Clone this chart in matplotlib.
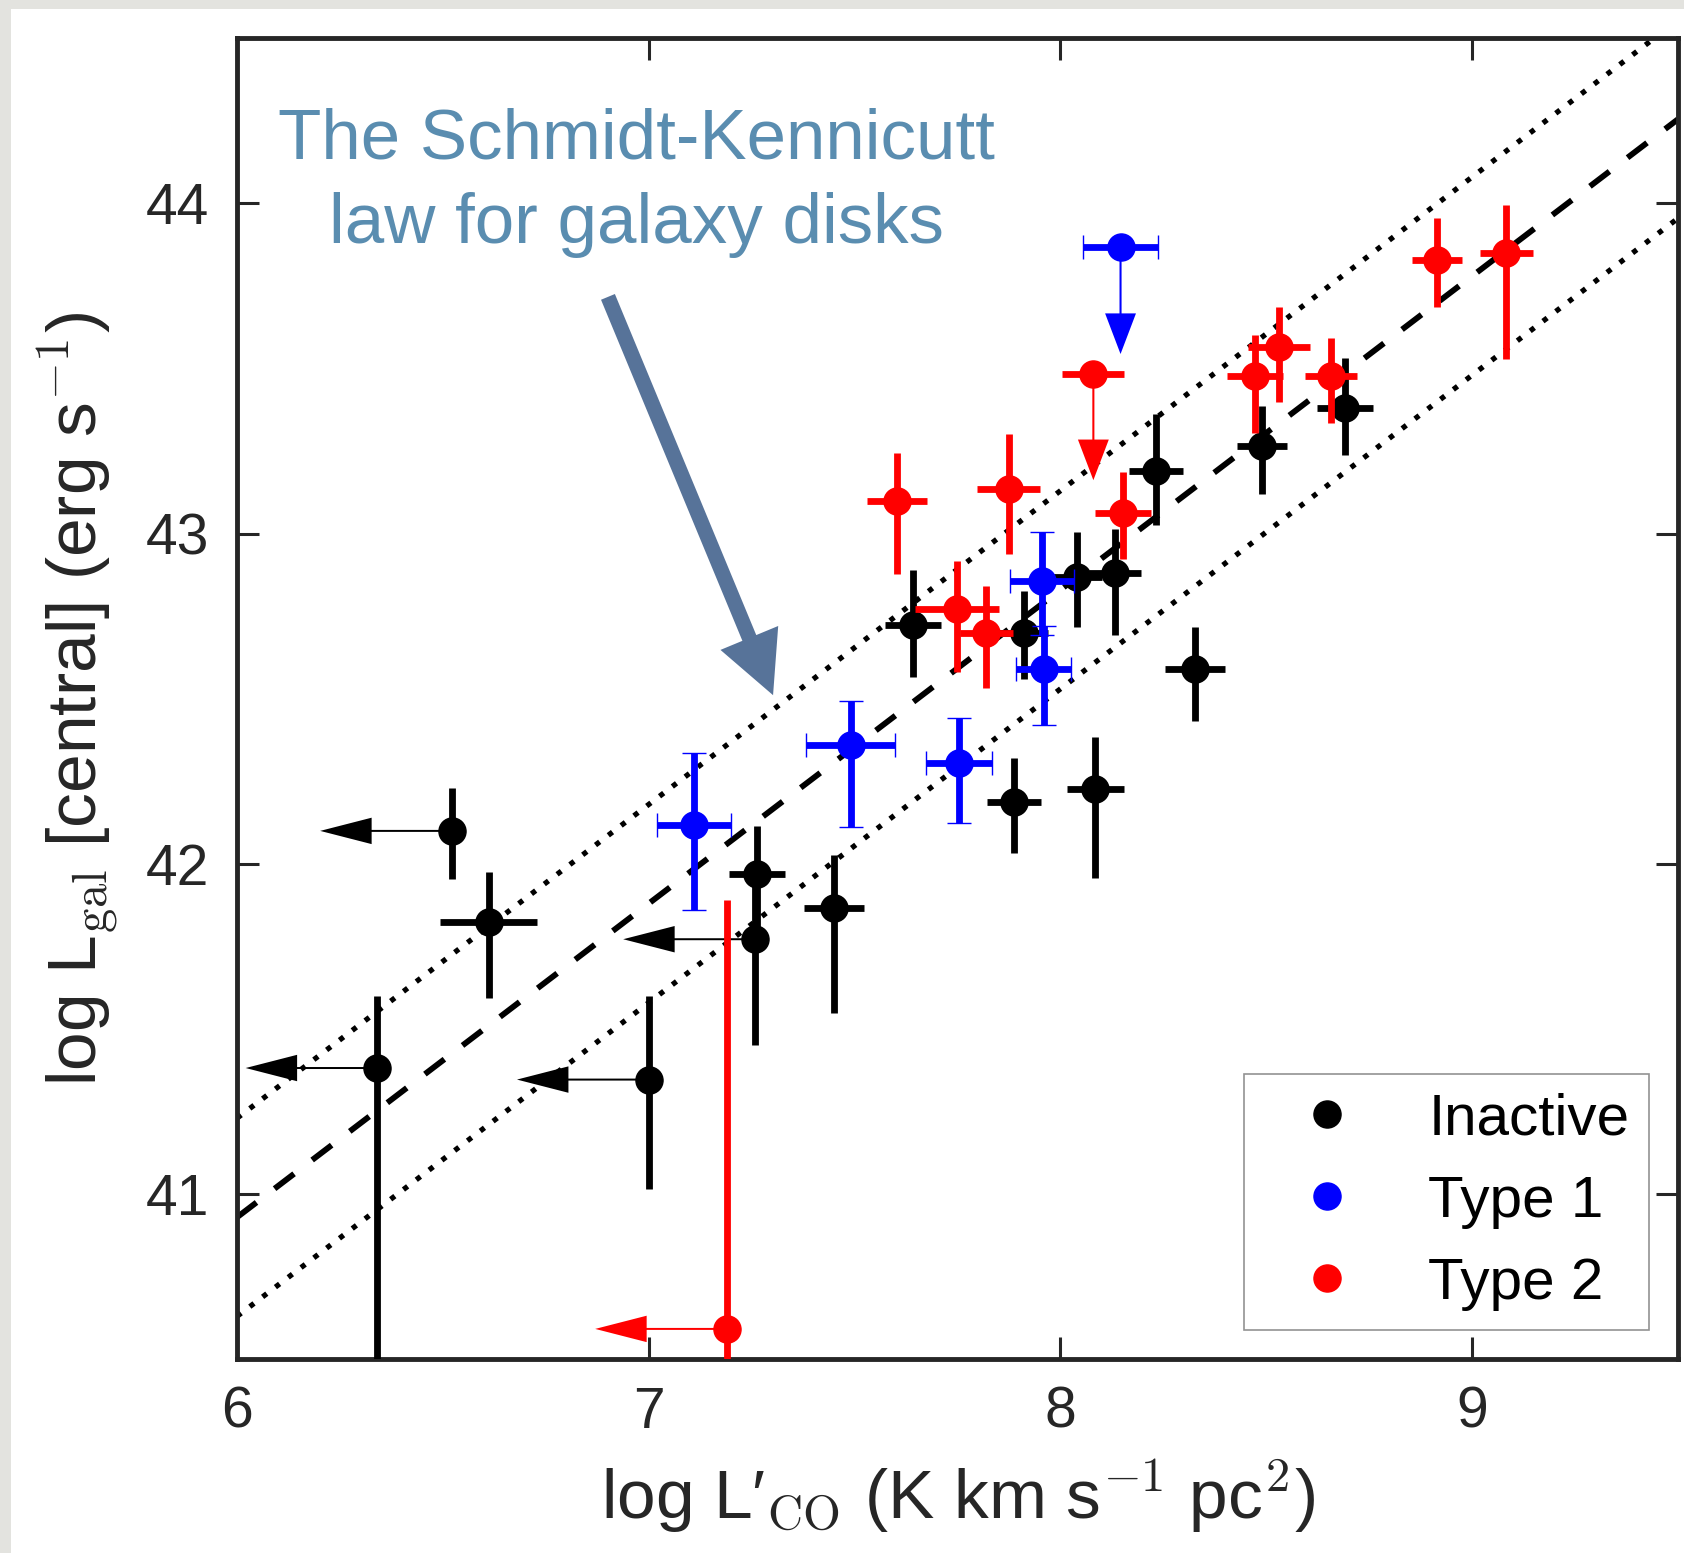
import numpy as np
import matplotlib
matplotlib.use('Agg')
import matplotlib.pyplot as plt
from matplotlib.lines import Line2D
from matplotlib.patches import Rectangle, FancyArrow

# ---------------- data ----------------
# Inactive galaxies
inactive_x = [6.522, 6.611, 6.341, 7.000, 7.263, 7.258, 7.450, 7.642, 7.911, 7.887,
              8.040, 8.133, 8.085, 8.232, 8.327, 8.489, 8.690]
inactive_y = [42.100, 41.824, 41.382, 41.347, 41.969, 41.772, 41.868, 42.723, 42.698, 42.189,
              42.869, 42.882, 42.228, 43.190, 42.589, 43.264, 43.382]
inactive_xerr = [0, 0.117, 0, 0, 0.067, 0, 0.074, 0.067, 0.060, 0.066,
                 0.060, 0.063, 0.070, 0.066, 0.072, 0.061, 0.068]
inactive_ylo = [0.145, 0.230, 1.000, 0.330, 0.180, 0.320, 0.320, 0.158, 0.137, 0.155,
                0.152, 0.190, 0.270, 0.164, 0.155, 0.145, 0.145]
inactive_yhi = [0.129, 0.153, 0.218, 0.253, 0.145, 0.200, 0.160, 0.166, 0.128, 0.133,
                0.137, 0.131, 0.156, 0.172, 0.128, 0.123, 0.149]
inactive_xlim = [1, 0, 1, 1, 0, 1, 0, 0, 0, 0, 0, 0, 0, 0, 0, 0, 0]
inactive_ylim = [0] * 17

# Type 1 AGN
type1_x = [8.146, 7.955, 7.959, 7.491, 7.753, 7.110]
type1_y = [43.867, 42.857, 42.591, 42.361, 42.305, 42.118]
type1_xerr = [0.090, 0.077, 0.067, 0.108, 0.080, 0.090]
type1_ylo = [0, 0.163, 0.171, 0.248, 0.182, 0.257]
type1_yhi = [0, 0.147, 0.128, 0.133, 0.136, 0.217]
type1_xlim = [0, 0, 0, 0, 0, 0]
type1_ylim = [1, 0, 0, 0, 0, 0]

# Type 2 AGN
type2_x = [8.080, 7.603, 7.874, 7.749, 7.820, 8.151, 8.472, 8.531, 8.658, 8.914, 9.083, 7.190]
type2_y = [43.485, 43.099, 43.135, 42.771, 42.700, 43.064, 43.476, 43.564, 43.476, 43.829, 43.850, 40.592]
type2_xerr = [0.075, 0.073, 0.076, 0.102, 0.065, 0.068, 0.068, 0.076, 0.063, 0.061, 0.065, 0]
type2_ylo = [0, 0.222, 0.197, 0.189, 0.167, 0.142, 0.172, 0.165, 0.142, 0.144, 0.320, 1.300]
type2_yhi = [0, 0.145, 0.167, 0.147, 0.142, 0.123, 0.125, 0.123, 0.118, 0.127, 0.144, 1.300]
type2_xlim = [0, 0, 0, 0, 0, 0, 0, 0, 0, 0, 0, 1]
type2_ylim = [1, 0, 0, 0, 0, 0, 0, 0, 0, 0, 0, 0]

# Schmidt-Kennicutt relation and scatter
sk_slope = 0.95
sk_intercept = 35.23
sk_scatter = 0.3

x_ticks = [6, 7, 8, 9]
y_ticks = [41, 42, 43, 44]
legend_labels = ['Inactive', 'Type 1', 'Type 2']

# ---------------- style ----------------
plt.rcParams['font.family'] = ['Liberation Sans', 'DejaVu Sans']
plt.rcParams['mathtext.fontset'] = 'cm'

W, H, DPI = 1684, 1553, 100
fig = plt.figure(figsize=(W / DPI, H / DPI), dpi=DPI, facecolor='#e3e3df')
fig.patches.append(Rectangle((11 / W, 0), 1, 1 - 9 / H, transform=fig.transFigure,
                             facecolor='white', edgecolor='none', zorder=-10))
ax = fig.add_axes([237 / W, 1 - 1359.3 / H, (1678 - 237) / W, (1359.3 - 38.3) / H])

ax.set_xlim(6, 9.5)
ax.set_ylim(40.5, 44.5)

# relation lines
xl = np.array([6.0, 9.5])
ax.plot(xl, sk_slope * xl + sk_intercept, color='black', lw=4.2,
        dashes=(4.2, 3.9), zorder=1)
for off in (sk_scatter, -sk_scatter):
    ax.plot(xl, sk_slope * xl + sk_intercept + off, color='black', lw=3.8,
            dashes=(1.0, 2.05), zorder=1)

ELW = 4.9
MS = 19.5


def draw_group(xs, ys, xerr, ylo, yhi, xlim, ylim, color, caps, zbase):
    for i in range(len(xs)):
        xe = [[xerr[i]], [xerr[i]]] if xerr[i] > 0 else None
        ye = [[ylo[i]], [yhi[i]]] if (ylo[i] > 0 or yhi[i] > 0) else None
        eb = ax.errorbar([xs[i]], [ys[i]], xerr=xe, yerr=ye, fmt='o', ms=MS,
                         color=color, mec=color, ecolor=color, elinewidth=ELW,
                         capsize=8.6 if caps else 0, capthick=1.0, zorder=zbase)
        if caps:
            for cl in eb[1]:
                cl.set_color('#7777ff')
        if xlim[i]:
            ax.add_patch(FancyArrow(xs[i], ys[i], -0.195, 0, width=0.006,
                                    head_width=0.08, head_length=0.125,
                                    length_includes_head=False, color=color,
                                    lw=0, zorder=zbase - 0.5))
        if ylim[i]:
            ax.add_patch(FancyArrow(xs[i], ys[i], 0, -0.2, width=0.005,
                                    head_width=0.075, head_length=0.123,
                                    length_includes_head=False, color=color,
                                    lw=0, zorder=zbase - 0.5))


draw_group(inactive_x, inactive_y, inactive_xerr, inactive_ylo, inactive_yhi,
           inactive_xlim, inactive_ylim, 'black', False, 3)
draw_group(type1_x, type1_y, type1_xerr, type1_ylo, type1_yhi,
           type1_xlim, type1_ylim, '#0000ff', True, 4)
draw_group(type2_x, type2_y, type2_xerr, type2_ylo, type2_yhi,
           type2_xlim, type2_ylim, '#ff0000', False, 5)

# annotation text and arrow
txt_color = '#5a8db0'
ax.text(6.969, 44.135, 'The Schmidt-Kennicutt', ha='center', va='baseline',
        fontsize=51, color=txt_color, zorder=6)
ax.text(6.969, 43.880, 'law for galaxy disks', ha='center', va='baseline',
        fontsize=51, color=txt_color, zorder=6)
ax.annotate('', xy=(7.302, 42.511), xytext=(6.901, 43.717),
            arrowprops=dict(arrowstyle='simple,head_length=4.46,head_width=4.5,tail_width=1.08',
                            mutation_scale=10, fc='#577399', ec='none',
                            shrinkA=0, shrinkB=0), zorder=6)

# legend
handles = [Line2D([], [], ls='', marker='o', ms=MS, color=c, mec=c)
           for c in ('black', '#0000ff', '#ff0000')]
leg = ax.legend(handles, legend_labels, loc='lower right', fontsize=42,
                frameon=True, fancybox=False, borderaxespad=0.5, borderpad=0.33,
                labelspacing=0.48, handlelength=2.2, handletextpad=0.64)
leg.get_frame().set_edgecolor('#777777')
leg.get_frame().set_linewidth(1.2)

# axes styling
spine_c = '#262626'
for s in ax.spines.values():
    s.set_linewidth(3.5)
    s.set_color(spine_c)
ax.set_xticks(x_ticks)
ax.set_yticks(y_ticks)
ax.tick_params(which='both', direction='in', top=True, right=True, length=15.5,
               width=2.2, color=spine_c, labelsize=41, labelcolor=spine_c)
ax.tick_params(axis='x', pad=19)
ax.tick_params(axis='y', pad=20)

ax.set_xlabel("log L\u2032$_{\\mathrm{CO}}$ (K km s$^{-1}$ pc$^{2}$)", fontsize=50, color=spine_c)
ax.set_ylabel(r"log L$_{\mathrm{gal}}$ [central] (erg s$^{-1}$)", fontsize=50, color=spine_c)
ax.xaxis.label.set_va('baseline')
ax.xaxis.set_label_coords(0.5, (1359.3 - 1518.3) / 1321.0)
ax.yaxis.label.set_va('baseline')
ax.yaxis.set_label_coords((97 - 237) / 1441.0, 0.5)

fig.savefig('out.png', dpi=DPI, facecolor=fig.get_facecolor())
